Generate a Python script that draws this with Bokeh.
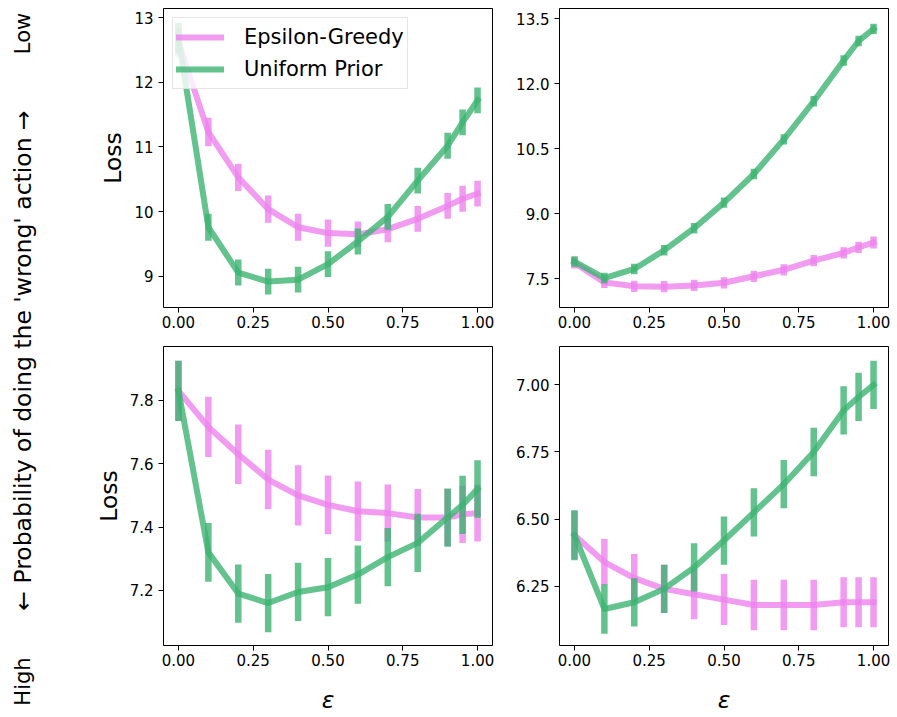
from bokeh.plotting import figure
from bokeh.models import (Range1d, FixedTicker, NumeralTickFormatter, Legend,
                          LegendItem, Label, ColumnDataSource)
from bokeh.layouts import row, column
from bokeh.embed import file_html
from bokeh.resources import INLINE

# ---------------- data ----------------
eps = [0.0, 0.1, 0.2, 0.3, 0.4, 0.5, 0.6, 0.7, 0.8, 0.9, 0.95, 1.0]
x_ticks = [0.0, 0.25, 0.5, 0.75, 1.0]
series_names = ["Epsilon-Greedy", "Uniform Prior"]

# top-left panel
eg_tl = [12.62, 11.23, 10.53, 10.04, 9.76, 9.67, 9.65, 9.73, 9.89, 10.09, 10.20, 10.28]
eg_tl_err = [0.22, 0.22, 0.21, 0.21, 0.21, 0.21, 0.20, 0.20, 0.20, 0.20, 0.20, 0.20]
up_tl = [12.68, 9.76, 9.06, 8.92, 8.95, 9.19, 9.54, 9.92, 10.48, 11.02, 11.38, 11.72]
up_tl_err = [0.24, 0.21, 0.20, 0.20, 0.20, 0.20, 0.20, 0.20, 0.20, 0.20, 0.20, 0.20]
yticks_tl = [9, 10, 11, 12, 13]

# top-right panel
eg_tr = [7.87, 7.42, 7.33, 7.32, 7.35, 7.41, 7.56, 7.71, 7.92, 8.10, 8.23, 8.34]
eg_tr_err = [0.13, 0.13, 0.13, 0.13, 0.13, 0.13, 0.13, 0.13, 0.13, 0.13, 0.13, 0.14]
up_tr = [7.90, 7.52, 7.73, 8.16, 8.67, 9.26, 9.92, 10.72, 11.60, 12.54, 12.99, 13.27]
up_tr_err = [0.12, 0.12, 0.12, 0.12, 0.12, 0.12, 0.12, 0.12, 0.12, 0.12, 0.12, 0.12]
yticks_tr = [7.5, 9.0, 10.5, 12.0, 13.5]

# bottom-left panel
eg_bl = [7.83, 7.716, 7.63, 7.55, 7.50, 7.47, 7.45, 7.444, 7.43, 7.43, 7.44, 7.444]
eg_bl_err = [0.095, 0.095, 0.094, 0.094, 0.095, 0.093, 0.094, 0.09, 0.09, 0.09, 0.09, 0.09]
up_bl = [7.83, 7.32, 7.19, 7.16, 7.195, 7.21, 7.25, 7.305, 7.35, 7.43, 7.47, 7.52]
up_bl_err = [0.095, 0.093, 0.092, 0.092, 0.092, 0.092, 0.092, 0.092, 0.092, 0.092, 0.092, 0.091]
yticks_bl = [7.2, 7.4, 7.6, 7.8]

# bottom-right panel
eg_br = [6.44, 6.34, 6.28, 6.24, 6.22, 6.20, 6.18, 6.18, 6.18, 6.19, 6.19, 6.19]
eg_br_err = [0.09, 0.086, 0.09, 0.09, 0.093, 0.095, 0.094, 0.094, 0.094, 0.093, 0.093, 0.093]
up_br = [6.44, 6.165, 6.19, 6.24, 6.32, 6.42, 6.525, 6.63, 6.75, 6.905, 6.955, 7.0]
up_br_err = [0.093, 0.092, 0.09, 0.09, 0.09, 0.09, 0.09, 0.09, 0.09, 0.09, 0.09, 0.09]
yticks_br = [6.25, 6.50, 6.75, 7.00]

side_texts = ["High", "← Probability of doing the 'wrong' action →", "Low"]

# ---------------- style ----------------
PINK = "#EE82EE"
GREEN = "#3CB371"
ALPHA = 0.8
FONT = "DejaVu Sans"
FW, FH = 329, 299


def panel(eg, eg_err, up, up_err, yr, yticks, yfmt, left, right, top, bottom,
          ylabel=None, xlabel=None, legend=False):
    p = figure(frame_width=FW, frame_height=FH,
               x_range=Range1d(-0.05, 1.05), y_range=Range1d(*yr),
               output_backend="svg", toolbar_location=None,
               min_border_left=left, min_border_right=right,
               min_border_top=top, min_border_bottom=bottom)
    p.grid.visible = False
    p.outline_line_color = "black"
    p.outline_line_width = 1
    p.outline_line_alpha = 1
    for ax in (p.xaxis[0], p.yaxis[0]):
        ax.axis_line_color = None
        ax.major_tick_in = 0
        ax.major_tick_out = 5
        ax.major_tick_line_color = "black"
        ax.major_tick_line_width = 1
        ax.minor_tick_line_color = None
        ax.major_label_text_font = FONT
        ax.major_label_text_font_size = "15px"
        ax.major_label_text_color = "black"
    p.xaxis.ticker = FixedTicker(ticks=x_ticks)
    p.xaxis.formatter = NumeralTickFormatter(format="0.00")
    p.xaxis.major_label_standoff = 3
    p.yaxis.ticker = FixedTicker(ticks=yticks)
    p.yaxis.formatter = NumeralTickFormatter(format=yfmt)
    p.yaxis.major_label_standoff = 5
    if ylabel:
        p.yaxis.axis_label = ylabel
        p.yaxis.axis_label_text_font = FONT
        p.yaxis.axis_label_text_font_size = "23.5px"
        p.yaxis.axis_label_text_font_style = "normal"
        p.yaxis.axis_label_text_color = "black"
        p.yaxis.axis_label_standoff = 4
    if xlabel:
        p.xaxis.axis_label = xlabel
        p.xaxis.axis_label_text_font = FONT
        p.xaxis.axis_label_text_font_size = "23.5px"
        p.xaxis.axis_label_text_font_style = "italic"
        p.xaxis.axis_label_text_color = "black"
        p.xaxis.axis_label_standoff = 17

    items = []
    for name, ys, err, color in ((series_names[0], eg, eg_err, PINK),
                                 (series_names[1], up, up_err, GREEN)):
        src = ColumnDataSource(dict(x=eps, y=ys,
                                    lo=[a - b for a, b in zip(ys, err)],
                                    hi=[a + b for a, b in zip(ys, err)]))
        ln = p.line("x", "y", source=src, line_color=color, line_width=6,
                    line_alpha=ALPHA, line_cap="square", line_join="round")
        p.segment(x0="x", y0="lo", x1="x", y1="hi", source=src,
                  line_color=color, line_width=6.5, line_alpha=ALPHA,
                  line_cap="butt")
        if legend:
            mk = p.scatter(x=[], y=[], marker="cross", line_color=color,
                           line_width=6.5, line_alpha=ALPHA)
            items.append(LegendItem(label=name, renderers=[ln, mk]))
    if legend:
        lg = Legend(items=items, location="top_left", margin=9, padding=3,
                    spacing=0, glyph_width=48, glyph_height=32,
                    label_standoff=20, label_text_font=FONT,
                    label_text_font_size="21px", label_text_color="black",
                    border_line_color="#cccccc", border_line_width=1,
                    background_fill_alpha=0.8)
        p.add_layout(lg)
    return p


p1 = panel(eg_tl, eg_tl_err, up_tl, up_tl_err, (8.52, 13.14), yticks_tl, "0",
           105, 17, 8, 30, ylabel="Loss", legend=True)
p2 = panel(eg_tr, eg_tr_err, up_tr, up_tr_err, (6.84, 13.74), yticks_tr, "0.0",
           50, 8, 8, 30)
p3 = panel(eg_bl, eg_bl_err, up_bl, up_bl_err, (7.026, 7.97), yticks_bl, "0.0",
           105, 17, 9, 71, ylabel="Loss", xlabel="ε")
p4 = panel(eg_br, eg_br_err, up_br, up_br_err, (6.029, 7.143), yticks_br, "0.00",
           50, 8, 9, 71, xlabel="ε")

side = figure(width=58, height=716, x_range=Range1d(0, 1), y_range=Range1d(0, 1),
              output_backend="svg", toolbar_location=None, min_border=0,
              x_axis_location=None, y_axis_location=None)
side.outline_line_color = None
side.grid.visible = False
for txt, yy, fs in ((side_texts[0], 35, "21px"), (side_texts[1], 356, "23.5px"),
                    (side_texts[2], 683, "21px")):
    side.add_layout(Label(x=22, y=yy, x_units="screen", y_units="screen",
                          angle=90, angle_units="deg", text=txt,
                          text_align="center", text_baseline="middle",
                          text_font=FONT, text_font_size=fs,
                          text_color="black"))

layout = row(side, column(row(p1, p2), row(p3, p4)))

with open("out.html", "w") as f:
    f.write(file_html(layout, INLINE))
